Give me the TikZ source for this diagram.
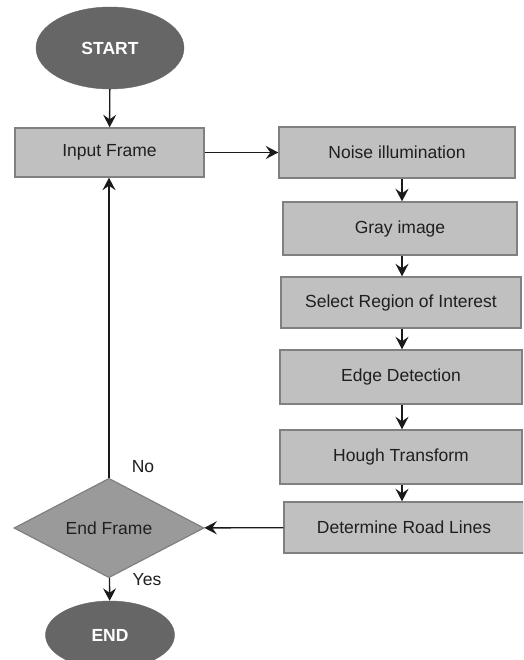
\documentclass[tikz,border=0pt]{standalone}
\usepackage{fontspec}
\setmainfont{Liberation Sans}
\usetikzlibrary{shapes.geometric,arrows.meta}
\definecolor{termfill}{HTML}{666666}
\definecolor{boxfill}{HTML}{C0C0C0}
\definecolor{boxline}{HTML}{808080}
\definecolor{decfill}{HTML}{9A9A9A}
\definecolor{linecol}{HTML}{1A1A1A}
\tikzset{
  terminal/.style={ellipse, fill=termfill, draw=termfill, inner sep=0pt,
    text=white, font=\fontsize{17.5}{20}\selectfont\bfseries},
  procbox/.style={rectangle, fill=boxfill, draw=boxline, line width=1.4pt,
    inner sep=0pt, text=black!88, font=\fontsize{17.5}{20}\selectfont},
  decision/.style={diamond, fill=decfill, draw=boxline, line width=1.2pt,
    inner sep=0pt, text=black!88, font=\fontsize{17.5}{20}\selectfont},
  flow/.style={draw=linecol, line width=1.4pt,
    -{Stealth[length=12.5pt, width=13pt, inset=4.5pt]}},
  tag/.style={text=black!88, font=\fontsize{17.5}{20}\selectfont}
}
\begin{document}
\begin{tikzpicture}[x=1pt, y=-1pt]
\clip (0,0) rectangle (523,660);
\fill[white] (0,0) rectangle (523,660);

% terminals
\node[terminal, minimum width=148pt, minimum height=82pt] (start) at (110,48) {START};
\node[terminal, minimum width=129pt, minimum height=68pt] (end) at (110,635) {END};

% left column
\node[procbox, minimum width=189pt, minimum height=49pt] (input) at (109.5,152.5) {Input Frame};
\node[decision, minimum width=190pt, minimum height=74pt] (check) at (109,528) {End Frame};

% processing chain
\node[procbox, minimum width=236pt, minimum height=51pt] (noise) at (397,152.5) {Noise illumination};
\node[procbox, minimum width=234pt, minimum height=53pt] (gray) at (400,228.5) {Gray image};
\node[procbox, minimum width=240pt, minimum height=51pt] (roi) at (401,302.5) {Select Region of Interest};
\node[procbox, minimum width=242pt, minimum height=54pt] (edge) at (401,377) {Edge Detection};
\node[procbox, minimum width=242pt, minimum height=54pt] (hough) at (401,457) {Hough Transform};
\node[procbox, minimum width=240pt, minimum height=51pt] (lines) at (404,527.5) {Determine Road Lines};

% connectors
\draw[flow] (noise.south -| 402,0) -- (gray.north -| 402,0);
\draw[flow] (gray.south -| 402,0) -- (roi.north -| 402,0);
\draw[flow] (roi.south -| 402,0) -- (edge.north -| 402,0);
\draw[flow] (edge.south -| 402,0) -- (hough.north -| 402,0);
\draw[flow] (hough.south -| 402,0) -- (lines.north -| 402,0);
\draw[flow] (start) -- (input);
\draw[flow] (input) -- (noise);
\draw[flow] (lines) -- (check);
\draw[flow] (check.north) -- (input.south -| check.north);
\draw[flow] (check) -- (end);

% branch labels
\node[tag] (no) at (143,467) {No};
\node[tag] (yes) at (147,580) {Yes};
\end{tikzpicture}
\end{document}
